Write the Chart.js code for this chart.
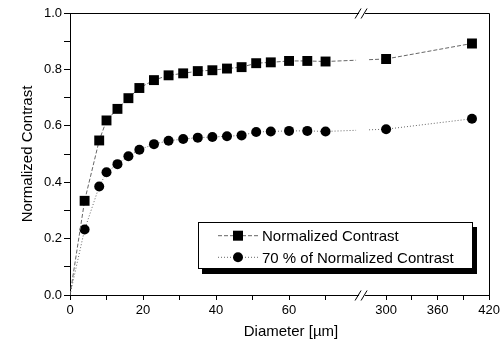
<!DOCTYPE html>
<html>
<head>
<meta charset="utf-8">
<script src="https://cdn.jsdelivr.net/npm/chart.js@4/dist/chart.umd.min.js"></script>
<style>
  body { margin: 0; background: #fff; }
</style>
</head>
<body>
<canvas id="contrastChart" width="503" height="346"></canvas>
<script>
'use strict'

// diameters left and right of the axis break
var diameterNear = [0, 4, 8, 10, 13, 16, 19, 23, 27, 31, 35, 39, 43, 47, 51, 55, 60, 65, 70];
var diameterFar = [300, 400];

var contrastNear = [0, 0.334, 0.548, 0.619, 0.660, 0.698, 0.734, 0.762, 0.779, 0.786, 0.794, 0.797, 0.803, 0.808, 0.822, 0.825, 0.830, 0.830, 0.828];
var contrastFar = [0.837, 0.892];

var contrast70Near = [0, 0.232, 0.385, 0.435, 0.464, 0.492, 0.515, 0.535, 0.547, 0.553, 0.558, 0.560, 0.563, 0.566, 0.578, 0.580, 0.582, 0.582, 0.580];
var contrast70Far = [0.588, 0.625];

var seriesNames = ['Normalized Contrast', '70 % of Normalized Contrast'];

var xNearTicks = [0, 10, 20, 30, 40, 50, 60, 70];
var xNearLabels = [0, 20, 40, 60];
var xFarTicks = [300, 330, 360, 390, 420];
var xFarLabels = [300, 360, 420];

var FONT = '"Liberation Sans", Arial, sans-serif';
Chart.defaults.font.family = FONT;
Chart.defaults.color = '#000';

function toPoints(xs, ys) {
  return xs.map(function (x, i) { return { x: x, y: ys[i] }; });
}

function series(name, xs, ys, axis, style, dash) {
  return {
    label: name,
    data: toPoints(xs, ys),
    xAxisID: axis,
    borderColor: '#666',
    borderWidth: 1,
    borderDash: dash,
    pointStyle: style,
    pointRadius: function (c) {
      if (c.raw && c.raw.x === 0) return 0;
      return style === 'rect' ? 7 : 5;
    },
    pointBackgroundColor: '#000',
    pointBorderColor: '#000',
    pointBorderWidth: 0,
    tension: 0,
    fill: false
  };
}

function xAxis(min, max, weight, tickList, labelList) {
  return {
    type: 'linear',
    position: 'bottom',
    stack: 'diameter',
    stackWeight: weight,
    min: min,
    max: max,
    afterBuildTicks: function (s) {
      s.ticks = tickList.map(function (v) { return { value: v }; });
    },
    ticks: {
      autoSkip: false,
      maxRotation: 0,
      padding: 3,
      font: { size: 13 },
      color: '#000',
      callback: function (v) { return labelList.indexOf(v) >= 0 ? String(v) : ''; }
    },
    grid: { drawOnChartArea: false, tickLength: 5, color: '#000' },
    border: { color: '#000', width: 1 },
    afterFit: function (s) { s.height = 51; }
  };
}

var breakPlugin = {
  id: 'axisBreak',
  beforeDatasetsDraw: function (chart) {
    // join each series across the break, leaving a gap at the break
    var ctx = chart.ctx;
    var bx = chart.scales.xFar.left;
    for (var i = 0; i < 2; i++) {
      var near = chart.getDatasetMeta(i).data;
      var a = near[near.length - 1];
      var b = chart.getDatasetMeta(i + 2).data[0];
      var ds = chart.data.datasets[i];
      var yAt = function (x) { return a.y + (b.y - a.y) * (x - a.x) / (b.x - a.x); };
      ctx.save();
      ctx.strokeStyle = ds.borderColor;
      ctx.lineWidth = ds.borderWidth;
      ctx.setLineDash(ds.borderDash);
      ctx.beginPath();
      ctx.moveTo(a.x, a.y);
      ctx.lineTo(bx - 6, yAt(bx - 6));
      ctx.moveTo(bx + 7, yAt(bx + 7));
      ctx.lineTo(b.x, b.y);
      ctx.stroke();
      ctx.restore();
    }
  },
  afterDraw: function (chart) {
    var ctx = chart.ctx;
    var area = chart.chartArea;
    var bx = chart.scales.xFar.left;
    var top = Math.round(area.top) + 0.5;
    var bottom = Math.round(area.bottom) + 0.5;
    var right = Math.round(area.right) + 0.5;

    ctx.save();
    ctx.strokeStyle = '#000';
    ctx.lineWidth = 1;
    ctx.beginPath();
    ctx.moveTo(area.left, top);
    ctx.lineTo(right, top);
    ctx.lineTo(right, bottom);
    ctx.stroke();

    // break marks on top and bottom
    [top, bottom].forEach(function (y) {
      ctx.fillStyle = '#fff';
      ctx.fillRect(bx - 3, y - 2, 6, 4);
      ctx.beginPath();
      ctx.moveTo(bx - 7, y + 5);
      ctx.lineTo(bx - 1, y - 5);
      ctx.moveTo(bx - 1, y + 5);
      ctx.lineTo(bx + 5, y - 5);
      ctx.stroke();
    });

    // x axis title
    ctx.fillStyle = '#000';
    ctx.font = '15px ' + FONT;
    ctx.textAlign = 'center';
    ctx.textBaseline = 'alphabetic';
    ctx.fillText('Diameter [\u00b5m]', 291, 336);

    // legend box with drop shadow
    var lx = 198, ly = 222, lw = 274, lh = 46;
    ctx.fillStyle = '#000';
    ctx.fillRect(lx + 4, ly + 5, lw + 1, lh + 1);
    ctx.fillStyle = '#fff';
    ctx.fillRect(lx, ly, lw, lh);
    ctx.strokeRect(lx + 0.5, ly + 0.5, lw, lh);

    var rows = [235.7, 257.3];
    for (var i = 0; i < 2; i++) {
      var ds = chart.data.datasets[i];
      var y = rows[i];
      ctx.save();
      ctx.strokeStyle = ds.borderColor;
      ctx.setLineDash(ds.borderDash);
      ctx.beginPath();
      ctx.moveTo(218, y);
      ctx.lineTo(259, y);
      ctx.stroke();
      ctx.restore();
      ctx.fillStyle = '#000';
      ctx.beginPath();
      if (ds.pointStyle === 'rect') {
        ctx.rect(233, y - 5, 10, 10);
      } else {
        ctx.arc(238, y, 5, 0, Math.PI * 2);
      }
      ctx.fill();
      ctx.textAlign = 'left';
      ctx.fillText(seriesNames[i], 262, y + 5.5);
    }
    ctx.restore();
  }
};

var chart = new Chart(document.getElementById('contrastChart'), {
  type: 'line',
  data: {
    datasets: [
      series(seriesNames[0], diameterNear, contrastNear, 'x', 'rect', [4, 2]),
      series(seriesNames[1], diameterNear, contrast70Near, 'x', 'circle', [1, 2]),
      series(seriesNames[0], diameterFar, contrastFar, 'xFar', 'rect', [4, 2]),
      series(seriesNames[1], diameterFar, contrast70Far, 'xFar', 'circle', [1, 2])
    ]
  },
  options: {
    responsive: false,
    animation: false,
    layout: { padding: { top: 13, right: 13, left: 0, bottom: 0 } },
    plugins: {
      legend: { display: false },
      tooltip: { enabled: false }
    },
    scales: {
      x: xAxis(0, 80, 293, xNearTicks, xNearLabels),
      xFar: xAxis(272, 420, 127.5, xFarTicks, xFarLabels),
      y: {
        type: 'linear',
        position: 'left',
        min: 0,
        max: 1,
        ticks: {
          stepSize: 0.1,
          padding: 2,
          font: { size: 13 },
          color: '#000',
          callback: function (v) {
            var t = Math.round(v * 10);
            return t % 2 === 0 ? (t / 10).toFixed(1) : '';
          }
        },
        grid: { drawOnChartArea: false, tickLength: 6, color: '#000' },
        border: { color: '#000', width: 1 },
        title: {
          display: true,
          text: 'Normalized Contrast',
          font: { size: 15 },
          color: '#000',
          padding: { top: 19, bottom: 0 }
        },
        afterFit: function (s) { s.width = 70; }
      }
    }
  },
  plugins: [breakPlugin]
});
</script>
</body>
</html>
